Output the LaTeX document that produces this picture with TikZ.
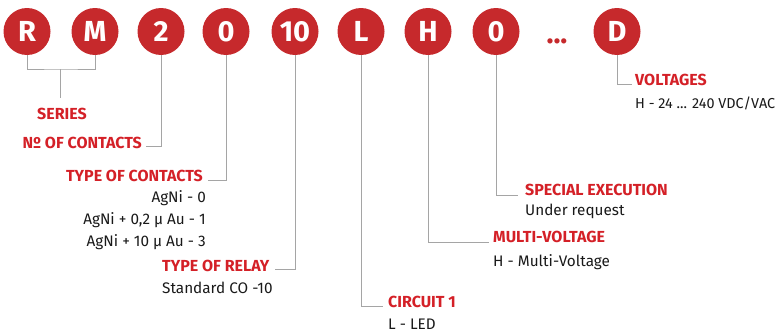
\documentclass[tikz,border=0pt]{standalone}
\usepackage{fontspec}
\setmainfont{Fira Sans}
\definecolor{circ}{RGB}{198,41,44}
\definecolor{lbl}{RGB}{212,32,39}
\definecolor{ln}{RGB}{165,165,165}
\definecolor{txt}{RGB}{25,25,25}
\begin{document}
\begin{tikzpicture}[x=1pt,y=-1pt,
  ball/.style={circle, fill=circ, minimum size=47pt, inner sep=0pt, text=white,
    font=\fontsize{29}{29}\selectfont\bfseries},
  head/.style={text=lbl, inner sep=0pt, font=\fontsize{16}{16}\selectfont\bfseries},
  body/.style={text=txt, inner sep=0pt, font=\fontsize{15.3}{15.3}\selectfont},
  wire/.style={draw=ln, line width=1pt}]
\useasboundingbox (0,0) rectangle (782,332);
\node[ball] (r) at (27,31.5) {R};
\node[ball] (m) at (95,31.5) {M};
\node[ball] (n2) at (161,31.5) {2};
\node[ball] (n0) at (226,31.5) {0};
\node[ball] (n10) at (295,31.5) {10};
\node[ball] (l) at (361,31.5) {L};
\node[ball] (h) at (428,31.5) {H};
\node[ball] (z) at (496,31.5) {0};
\node[text=circ, inner sep=0pt, anchor=base, font=\fontsize{29}{29}\selectfont\bfseries] (dots) at (557,43) {...};
\node[ball] (d) at (617,31.5) {D};
% labels
\node[head, anchor=base] (series) at (62,119) {SERIES};
\node[head, anchor=base east] (noc) at (142,148) {Nº OF CONTACTS};
\node[head, anchor=base east] (toc) at (203,181) {TYPE OF CONTACTS};
\node[body, anchor=base east] (t1) at (206,202) {AgNi - 0};
\node[body, anchor=base east] (t2) at (206,224) {AgNi + 0,2 μ Au - 1};
\node[body, anchor=base east] (t3) at (206,246) {AgNi + 10 μ Au - 3};
\node[head, anchor=base west] (tor) at (162,271) {TYPE OF RELAY};
\node[body, anchor=base west] (std) at (162,293) {Standard CO -10};
\node[head, anchor=base west] (c1) at (388,307) {CIRCUIT 1};
\node[body, anchor=base west] (led) at (388,329) {L - LED};
\node[head, anchor=base west] (mv) at (493,242) {MULTI-VOLTAGE};
\node[body, anchor=base west] (hmv) at (493,266) {H - Multi-Voltage};
\node[head, anchor=base west] (se) at (525,195) {SPECIAL EXECUTION};
\node[body, anchor=base west] (ur) at (525,215) {Under request};
\node[head, anchor=base west] (vo) at (635,85) {VOLTAGES};
\node[body, anchor=base west, font=\fontsize{14.4}{14.4}\selectfont] (hv) at (635,108) {H - 24 ... 240 VDC/VAC};
% connector ends
\coordinate (rm) at (60.5,69);
\coordinate (rmend) at (60.5,98);
\coordinate (e2) at (146,146);
\coordinate (e0) at (208,180);
\coordinate (e10) at (275,269);
\coordinate (el) at (383,306);
\coordinate (eh) at (489,242);
\coordinate (ez) at (518,195);
\coordinate (ed) at (632,84);
% connectors
\draw[wire] (r.south) |- (rm) -| (m.south);
\draw[wire] (rm) -- (rmend);
\draw[wire] (n2.south) |- (e2);
\draw[wire] (n0.south) |- (e0);
\draw[wire] (n10.south) |- (e10);
\draw[wire] (l.south) |- (el);
\draw[wire] (h.south) |- (eh);
\draw[wire] (z.south) |- (ez);
\draw[wire] (d.south) |- (ed);
\end{tikzpicture}
\end{document}
